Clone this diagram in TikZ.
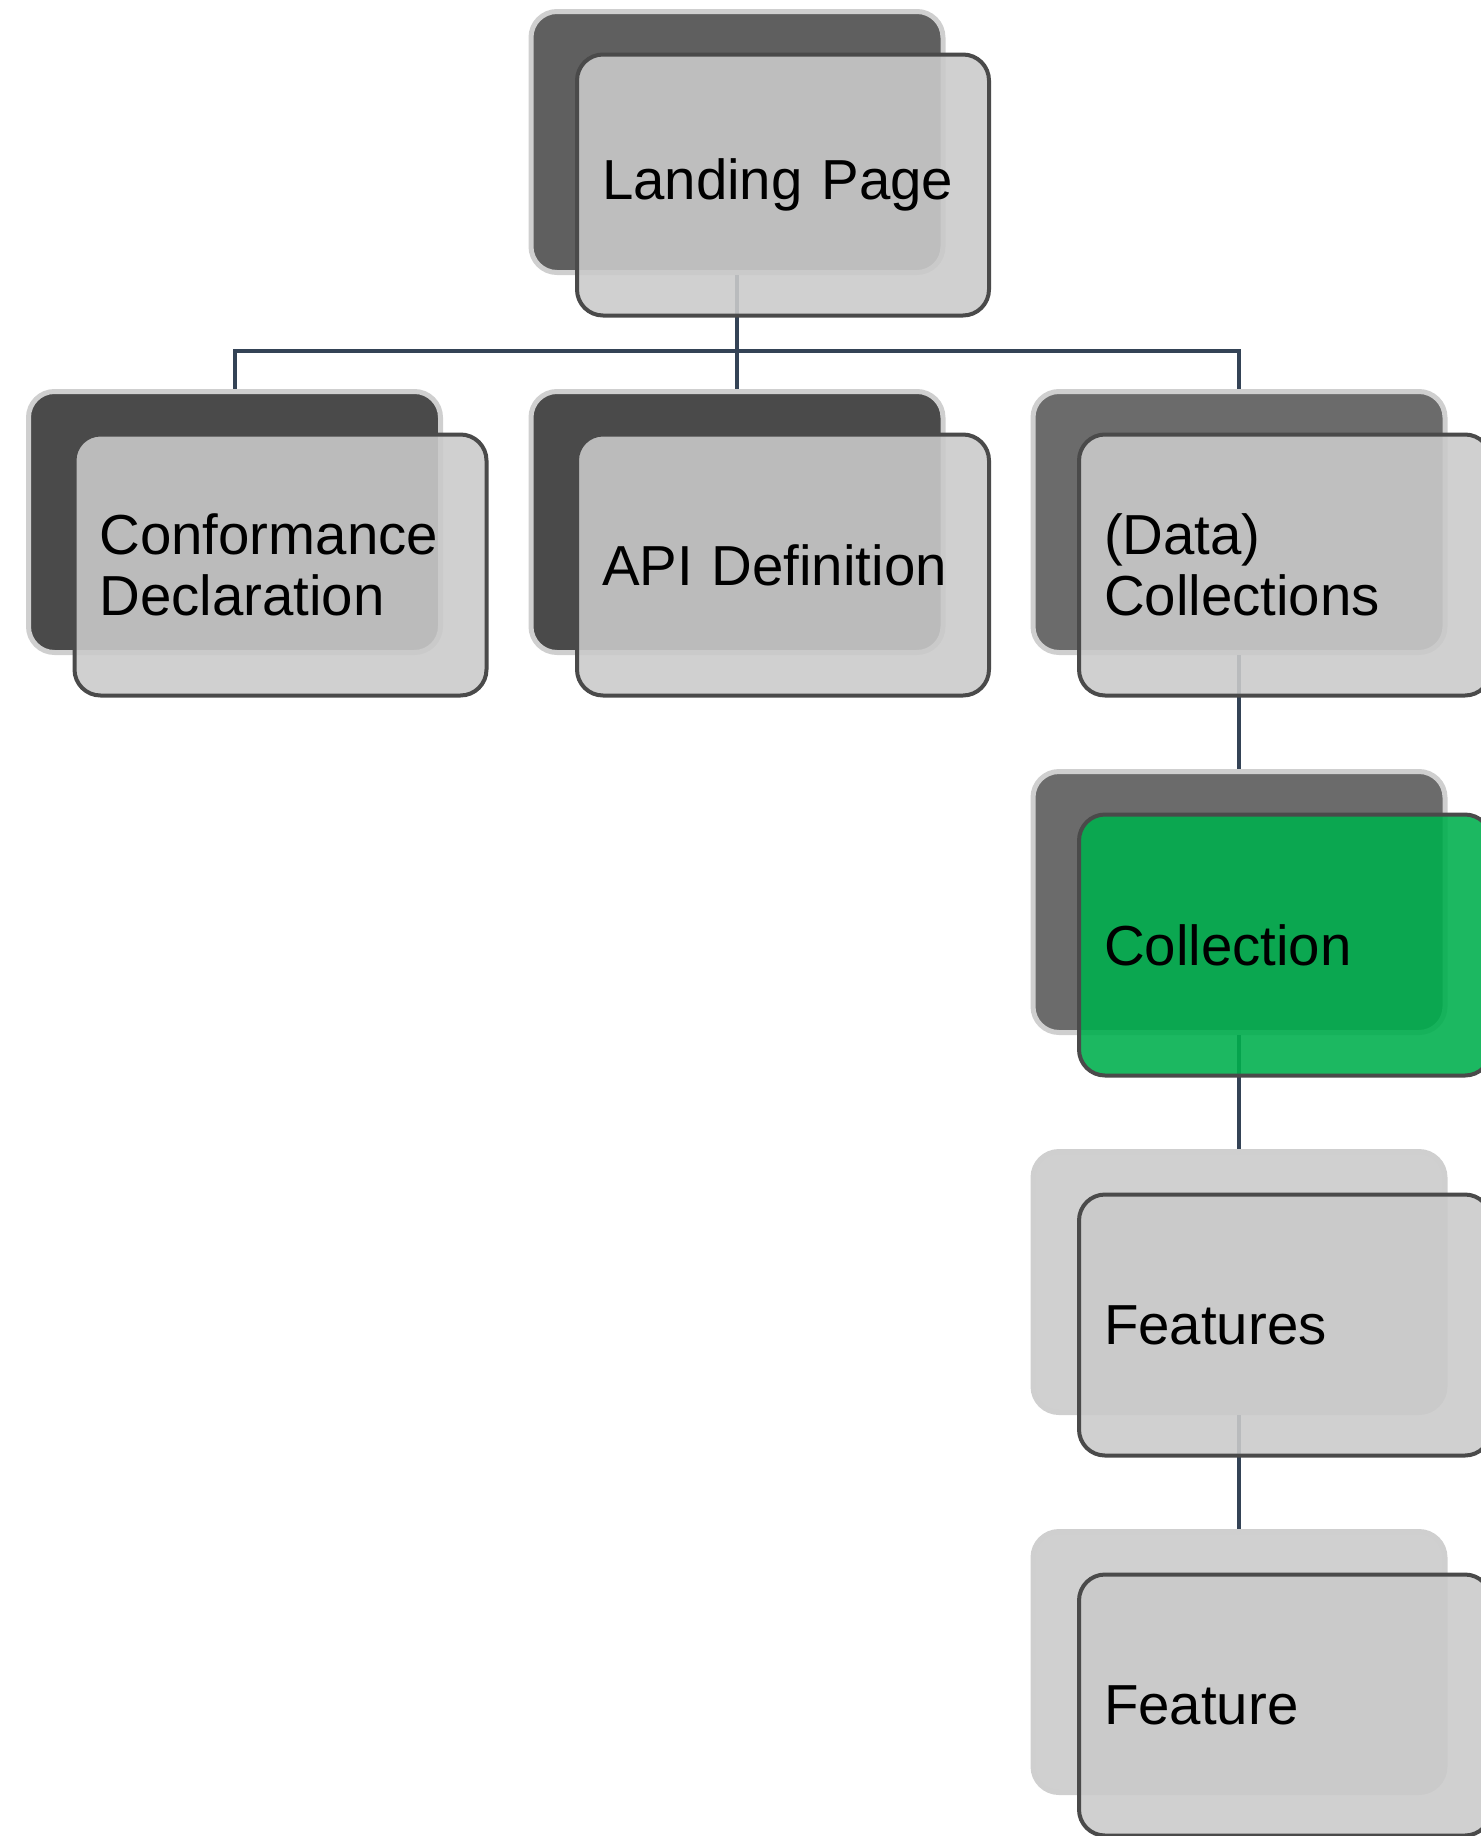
\documentclass[tikz,border=0pt]{standalone}
\usepackage{fontspec}
\setmainfont{Liberation Sans}
\usetikzlibrary{positioning,calc}
\definecolor{landgray}{HTML}{5F5F5F}
\definecolor{darkgray}{HTML}{4A4A4A}
\definecolor{midgray}{HTML}{6B6B6B}
\definecolor{palegray}{HTML}{D0D0D0}
\definecolor{backedge}{HTML}{CFCFCF}
\definecolor{frontgray}{HTML}{CACACA}
\definecolor{frontedge}{HTML}{4A4A4A}
\definecolor{pagegreen}{RGB}{0,175,77}
\definecolor{slateblue}{HTML}{344356}

\begin{document}
\begin{tikzpicture}[
    back/.style={draw=backedge, line width=2.5pt, rounded corners=13pt, minimum width=206pt, minimum height=130.5pt},
    front/.style={draw=frontedge, line width=2pt, rounded corners=13pt, minimum width=206pt, minimum height=130.5pt,
        fill=frontgray, fill opacity=0.89, text opacity=1, text width=181pt, inner xsep=12.5pt, align=left,
        font=\fontsize{28.2}{30.5}\selectfont},
    link/.style={draw=slateblue, line width=2pt}]
    \useasboundingbox (0,0) rectangle (740.5pt,-918pt);

    \node[back, fill=landgray] (b1) at (368.5pt,-71pt) {};
    \node[back, fill=darkgray] (b2) at (117.25pt,-261pt) {};
    \node[back, fill=darkgray] (b3) at (368.5pt,-261pt) {};
    \node[back, fill=midgray] (b4) at (619.5pt,-261pt) {};
    \node[back, fill=midgray] (b5) at (619.5pt,-451pt) {};
    \node[back, fill=palegray] (b6) at (619.5pt,-641pt) {};
    \node[back, fill=palegray] (b7) at (619.5pt,-831pt) {};

    % Tree links
    \coordinate (bar) at (368.5pt,-175.5pt);
    \draw[link] (b1.south) -- (bar) -| (b2.north);
    \draw[link] (bar) -- (b3.north);
    \draw[link] (bar) -| (b4.north);
    \draw[link] (b4.south) -- (b5.north);
    \draw[link] (b5.south) -- (b6.north);
    \draw[link] (b6.south) -- (b7.north);

    \node[front] (f1) at ($(b1)+(23pt,-21.5pt)$) {Landing Page};
    \node[front] (f2) at ($(b2)+(23pt,-21.5pt)$) {Conformance\\Declaration};
    \node[front] (f3) at ($(b3)+(23pt,-21.5pt)$) {API Definition};
    \node[front] (f4) at ($(b4)+(23pt,-21.5pt)$) {(Data)\\Collections};
    \node[front, fill=pagegreen] (f5) at ($(b5)+(23pt,-21.5pt)$) {Collection};
    \node[front] (f6) at ($(b6)+(23pt,-21.5pt)$) {Features};
    \node[front] (f7) at ($(b7)+(23pt,-21.5pt)$) {Feature};
\end{tikzpicture}
\end{document}
